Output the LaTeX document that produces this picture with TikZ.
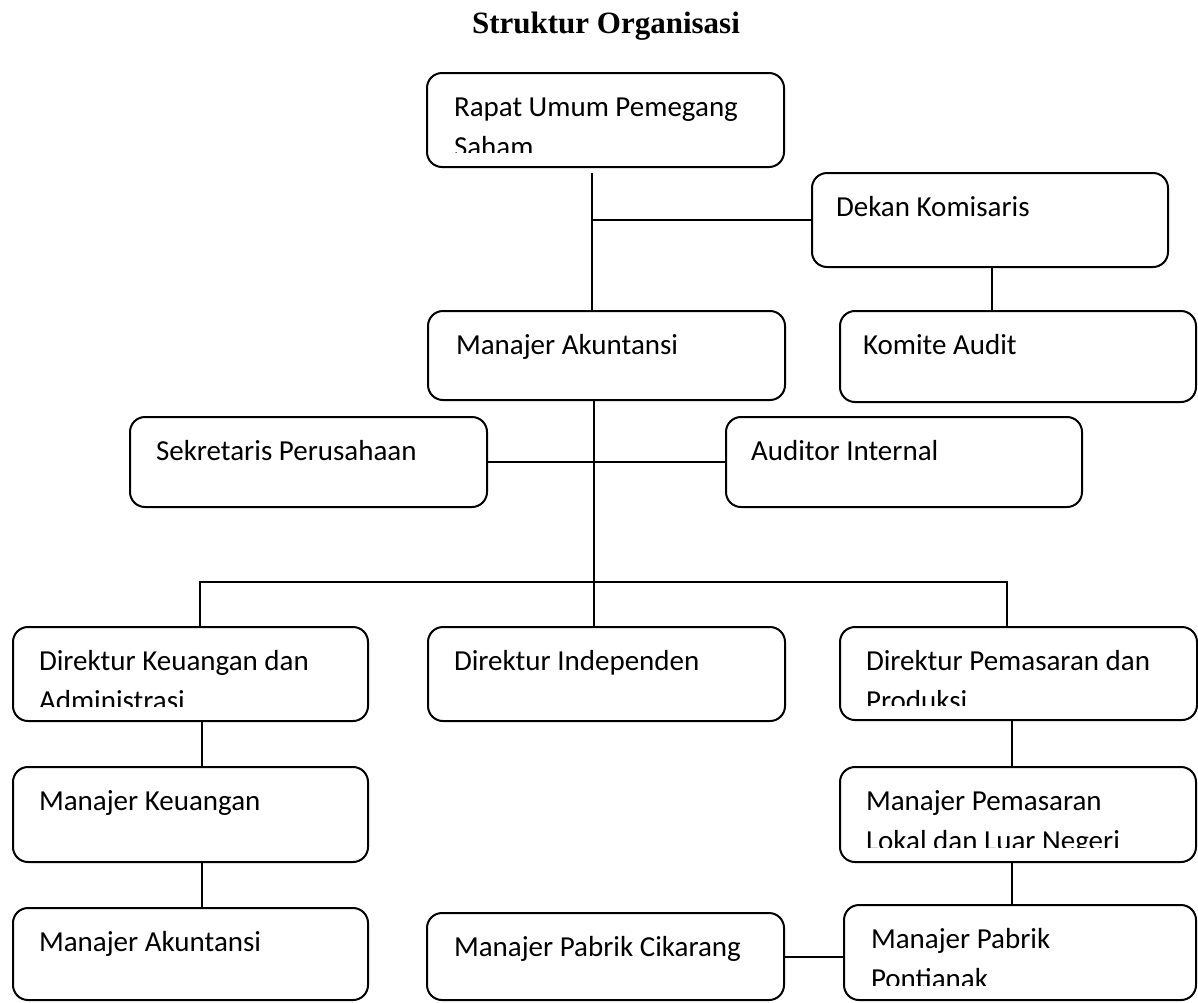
\documentclass[tikz,border=0pt]{standalone}
\usepackage{fontspec}
\setmainfont{Carlito}
\newfontfamily\titlefont{Liberation Serif}
\begin{document}
\begin{tikzpicture}[x=1pt,y=-1pt,line width=2pt,
  orgbox/.style={draw,rounded corners=15pt,inner sep=0pt,outer sep=0pt},
  orglabel/.style={anchor=base west,inner sep=0pt,
    font=\fontsize{29}{40}\selectfont}]
\useasboundingbox (0,0) rectangle (1198,1002);

% box: name, left, top, right, bottom, text x, first line, second line
% the text is cut off 15pt above the lower edge of the box
\newcommand\orgunit[8]{%
  \node[orgbox,minimum width={(#4-#2)*1pt},minimum height={(#5-#3)*1pt}]
    (#1) at ({(#2+#4)/2},{(#3+#5)/2}) {};
  \begin{scope}
    \clip (#2,#3) rectangle (#4,{#5-15});
    \node[orglabel] (#1-text) at (#6,{#3+43})
      {\vtop{\baselineskip=40pt\hbox{#7}\hbox{#8}}};
  \end{scope}}

\node[font=\titlefont\bfseries\fontsize{31}{36}\selectfont,anchor=base]
  (title) at (606,33) {Struktur Organisasi};

\orgunit{rups}{427}{73}{784}{167}{453}{Rapat Umum Pemegang}{Saham}
\orgunit{dekan}{812}{173}{1168}{267}{835}{Dekan Komisaris}{}
\orgunit{mak}{428}{311}{785}{400}{455}{Manajer Akuntansi}{}
\orgunit{komite}{840}{311}{1196}{402}{862}{Komite Audit}{}
\orgunit{sek}{130}{417}{487}{507}{155}{Sekretaris Perusahaan}{}
\orgunit{aud}{726}{417}{1082}{507}{750}{Auditor Internal}{}
\orgunit{dkeu}{13}{627}{368}{721}{38}{Direktur Keuangan dan}{Administrasi}
\orgunit{dind}{428}{627}{785}{721}{453}{Direktur Independen}{}
\orgunit{dpem}{840}{627}{1197}{720}{865}{Direktur Pemasaran dan}{Produksi}
\orgunit{mkeu}{13}{767}{368}{862}{38}{Manajer Keuangan}{}
\orgunit{mpem}{840}{767}{1196}{862}{865}{Manajer Pemasaran}{Lokal dan Luar Negeri}
\orgunit{makb}{13}{908}{368}{1000}{38}{Manajer Akuntansi}{}
\orgunit{cik}{427}{913}{784}{1000}{453}{Manajer Pabrik Cikarang}{}
\orgunit{pont}{844}{905}{1196}{1000}{870}{Manajer Pabrik}{Pontianak}

% connectors
\coordinate (j1) at (592,173);
\draw (j1) -- (j1 |- mak.north);
\draw (j1 |- dekan.west) -- (dekan.west);
\coordinate (k) at (992,0);
\draw (k |- dekan.south) -- (k |- komite.north);
\coordinate (j2) at (594,0);
\draw (j2 |- mak.south) -- (j2 |- dind.north);
\draw (sek.east) -- (aud.west);
\coordinate (bl) at (200,582);
\coordinate (br) at (1007,582);
\draw (bl |- dkeu.north) -- (bl) -- (br) -- (br |- dpem.north);
\coordinate (vl) at (202,0);
\draw (vl |- dkeu.south) -- (vl |- mkeu.north);
\draw (vl |- mkeu.south) -- (vl |- makb.north);
\coordinate (vr) at (1012,0);
\draw (vr |- dpem.south) -- (vr |- mpem.north);
\draw (vr |- mpem.south) -- (vr |- pont.north);
\draw (cik.east) -- (cik.east -| pont.west);
\end{tikzpicture}
\end{document}
